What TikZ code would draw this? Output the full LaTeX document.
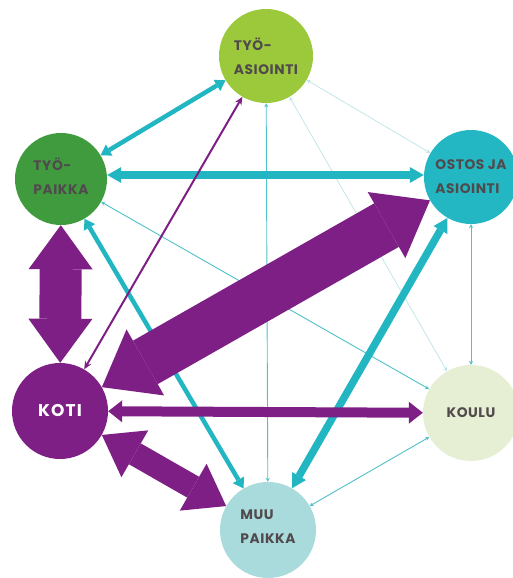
\documentclass[tikz,border=0pt]{standalone}
\usepackage{fontspec}
\setmainfont{Poppins}
\newfontfamily\lblfont[LetterSpace=4]{Poppins}
\newfontfamily\kotifont[LetterSpace=7]{Poppins}
\usetikzlibrary{arrows.meta}
\definecolor{cteal}{HTML}{21B6C1}
\definecolor{cthin}{HTML}{4FC1CB}
\definecolor{cpale}{HTML}{BDE4E8}
\definecolor{cpurple}{HTML}{7E1F86}
\definecolor{clime}{HTML}{9CC93C}
\definecolor{cgreen}{HTML}{3F9B3E}
\definecolor{costos}{HTML}{22B7C2}
\definecolor{ckoulu}{HTML}{E6EFD3}
\definecolor{cmuu}{HTML}{A9DBDC}
\definecolor{ctext}{HTML}{514A4C}
\begin{document}
\begin{tikzpicture}[x=1pt,y=-1pt,
  place/.style={circle, inner sep=0pt, minimum size=#1, text=ctext, align=left,
    font=\lblfont\bfseries\fontsize{13.8}{24}\selectfont},
  thinline/.style={draw=cthin, line width=0.9pt, {Stealth[length=4pt,width=4pt]}-{Stealth[length=4pt,width=4pt]}},
  paleline/.style={draw=cpale, line width=0.7pt, {Stealth[length=4pt,width=4pt]}-{Stealth[length=4pt,width=4pt]}},
  tealmid/.style={draw=cteal, line width=4.5pt, {Triangle[length=10pt,width=13pt,line width=0pt]}-{Triangle[length=10pt,width=13pt,line width=0pt]}},
  tealthick/.style={draw=cteal, line width=7.5pt, {Triangle[length=14pt,width=16pt,line width=0pt]}-{Triangle[length=14pt,width=16pt,line width=0pt]}},
  purthin/.style={draw=cpurple, line width=2pt, {Stealth[length=8pt,width=7pt]}-{Stealth[length=8pt,width=7pt]}},
  block/.style n args={3}{draw=cpurple, line width=#1, {Triangle[length=#2,width=#3,line width=0pt]}-{Triangle[length=#2,width=#3,line width=0pt]}}
]
\useasboundingbox (0,0) rectangle (512,578);
\fill[white] (0,0) rectangle (512,578);

\node[place=94pt, fill=clime]   (tyoas) at (266,56)  {TYÖ-\\ASIOINTI};
\node[place=92pt, fill=cgreen, text depth=6pt]  (tyop)  at (61,179)  {TYÖ-\\PAIKKA};
\node[place=94pt, fill=costos]  (ostos) at (471,177) {OSTOS JA\\ASIOINTI};
\node[place=96pt, fill=cpurple, text=white, font=\kotifont\bfseries\fontsize{17}{20}\selectfont] (koti) at (60,411) {KOTI};
\node[place=96pt, fill=ckoulu]  (koulu) at (471,413) {KOULU};
\node[place=96pt, fill=cmuu, text depth=6pt]    (muu)   at (268,530) {MUU\\PAIKKA};

% thin lines
\draw[paleline] (tyoas) -- (ostos);
\draw[paleline] (tyoas) -- (koulu);
\draw[thinline] (tyoas) -- (muu);
\draw[thinline] (tyop) -- (koulu);
\draw[thinline] (ostos) -- (koulu);
\draw[thinline] (muu) -- (koulu);

% teal arrows
\draw[tealmid] (tyop) -- (tyoas);
\draw[tealmid] (tyop) -- (muu);
\draw[tealthick] (tyop.east |- 0,175) -- (ostos.west |- 0,175);
\draw[tealthick] (ostos) -- (muu);

% purple arrows
\draw[purthin] (koti) -- (tyoas);
\draw[block={10pt}{14pt}{22pt}] (koti) -- (koulu);
\draw[block={24pt}{38pt}{54pt}] (koti) -- (muu);
\draw[block={42pt}{44pt}{64pt}] (koti) -- (tyop);
\draw[block={50pt}{50pt}{76pt}] (koti) -- (ostos);
\end{tikzpicture}
\end{document}
